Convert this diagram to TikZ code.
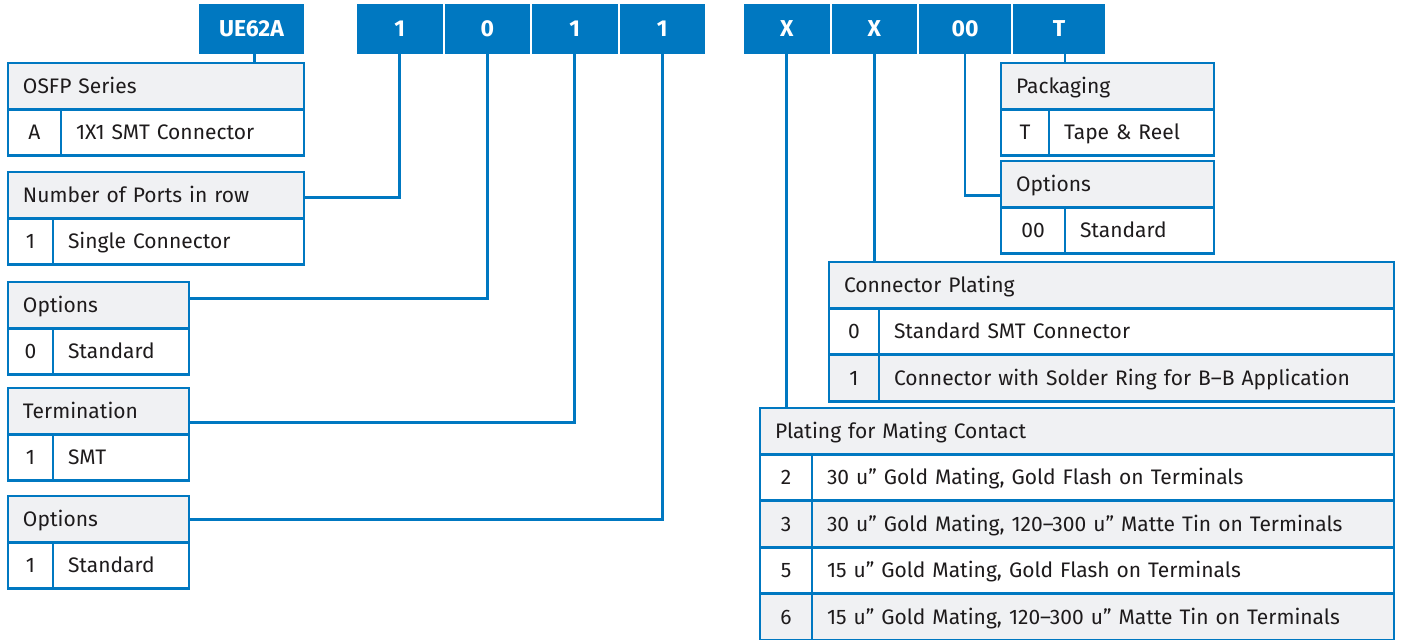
\documentclass[tikz,border=0pt]{standalone}
\usepackage{fontspec}
\setmainfont{Fira Sans}
\usetikzlibrary{positioning}

\definecolor{ublue}{RGB}{0,120,193}
\definecolor{hgray}{RGB}{240,241,243}
\definecolor{ink}{RGB}{30,27,28}

\begin{document}
\begin{tikzpicture}[x=0.5pt, y=-0.5pt, font=\fontsize{10.5}{12}\selectfont, text=ink,
  box/.style={fill=ublue, text=white, font=\fontsize{11.5}{13}\selectfont\bfseries, minimum width=#1, minimum height=25pt, inner sep=0pt, outer sep=0pt, text height=7.8pt, text depth=0pt},
  cell/.style={draw=ublue, line width=1.4pt, anchor=north west, minimum height=23.2pt, outer sep=0pt, text height=7.2pt, text depth=0pt},
  hdr/.style={cell, fill=hgray, text width=#1, inner xsep=7.5pt, align=left},
  code/.style={cell, minimum width=#1, inner xsep=0pt},
  desc/.style={cell, text width=#1, inner xsep=7.5pt, align=left},
  conn/.style={draw=ublue, line width=1.4pt}]

    \useasboundingbox (0,0) rectangle (1402,640);

    % part number
    \node[box=52.5pt, anchor=north west] (ser) at (199,4) {UE62A};
    \node[box=42.75pt, anchor=north west] (prt) at (357,4) {1};
    \node[box=42.75pt, right=1pt of prt] (opa) {0};
    \node[box=42.75pt, right=1pt of opa] (trm) {1};
    \node[box=42.75pt, right=1pt of trm] (opb) {1};
    \node[box=42.75pt, anchor=north west] (mat) at (744,4) {X};
    \node[box=42.75pt, right=1pt of mat] (cpl) {X};
    \node[box=46pt, right=1pt of cpl] (opc) {00};
    \node[box=46pt, right=1pt of opc] (pkg) {T};

    % left tables
    \node[hdr=133pt] (serh) at (8,63) {OSFP Series};
    \node[code=26.5pt] (serc) at (serh.south west) {A};
    \node[desc=106.5pt] (serd) at (serc.north east) {1X1 SMT Connector};

    \node[hdr=133pt] (prth) at (8,172) {Number of Ports in row};
    \node[code=22.5pt] (prtc) at (prth.south west) {1};
    \node[desc=110.5pt] (prtd) at (prtc.north east) {Single Connector};

    \node[hdr=75.5pt] (opah) at (8,282) {Options};
    \node[code=22.5pt] (opac) at (opah.south west) {0};
    \node[desc=53pt] (opad) at (opac.north east) {Standard};

    \node[hdr=75.5pt] (trmh) at (8,388) {Termination};
    \node[code=22.5pt] (trmc) at (trmh.south west) {1};
    \node[desc=53pt] (trmd) at (trmc.north east) {SMT};

    \node[hdr=75.5pt] (opbh) at (8,496) {Options};
    \node[code=22.5pt] (opbc) at (opbh.south west) {1};
    \node[desc=53pt] (opbd) at (opbc.north east) {Standard};

    % right tables
    \node[hdr=91.5pt] (pkgh) at (1001,63) {Packaging};
    \node[code=24pt] (pkgc) at (pkgh.south west) {T};
    \node[desc=67.5pt] (pkgd) at (pkgc.north east) {Tape \& Reel};

    \node[hdr=91.5pt] (opch) at (1001,161) {Options};
    \node[code=32pt] (opcc) at (opch.south west) {00};
    \node[desc=59.5pt] (opcd) at (opcc.north east) {Standard};

    \node[hdr=267.5pt] (cplh) at (829,262) {Connector Plating};
    \node[code=25pt] (cplc1) at (cplh.south west) {0};
    \node[desc=242.5pt] (cpld1) at (cplc1.north east) {Standard SMT Connector};
    \node[code=25pt, fill=hgray] (cplc2) at (cplc1.south west) {1};
    \node[desc=242.5pt, fill=hgray] (cpld2) at (cplc2.north east) {Connector with Solder Ring for B--B Application};

    \node[hdr=302pt] (math) at (760,408) {Plating for Mating Contact};
    \foreach \c/\t/\f [count=\i] in {2/{30 u” Gold Mating, Gold Flash on Terminals}/white,
                                   3/{30 u” Gold Mating, 120--300 u” Matte Tin on Terminals}/hgray,
                                   5/{15 u” Gold Mating, Gold Flash on Terminals}/white,
                                   6/{15 u” Gold Mating, 120--300 u” Matte Tin on Terminals}/hgray}{
      \node[code=26pt, fill=\f] (matc\i) at ([yshift={-(\i-1)*23.2pt}]math.south west) {\c};
      \node[desc=276pt, fill=\f] (matd\i) at (matc\i.north east) {\t};
    }

    % connectors
    \draw[conn] ([xshift=1.5pt]ser.south) -- ([xshift=1.5pt]ser.south |- serh.north);
    \draw[conn] (prt.south) |- ([yshift=-1pt]prth.east);
    \draw[conn] (opa.south) |- ([yshift=3.5pt]opah.east);
    \draw[conn] (trm.south) |- ([yshift=-5.5pt]trmh.east);
    \draw[conn] (opb.south) |- (opbh.east);

    \draw[conn] (mat.south) -- (mat.south |- math.north);
    \draw[conn] (cpl.south) -- (cpl.south |- cplh.north);
    \draw[conn] (opc.south) |- ([yshift=-5.5pt]opch.west);
    \draw[conn] ([xshift=3pt]pkg.south) -- ([xshift=3pt]pkg.south |- pkgh.north);

\end{tikzpicture}
\end{document}
